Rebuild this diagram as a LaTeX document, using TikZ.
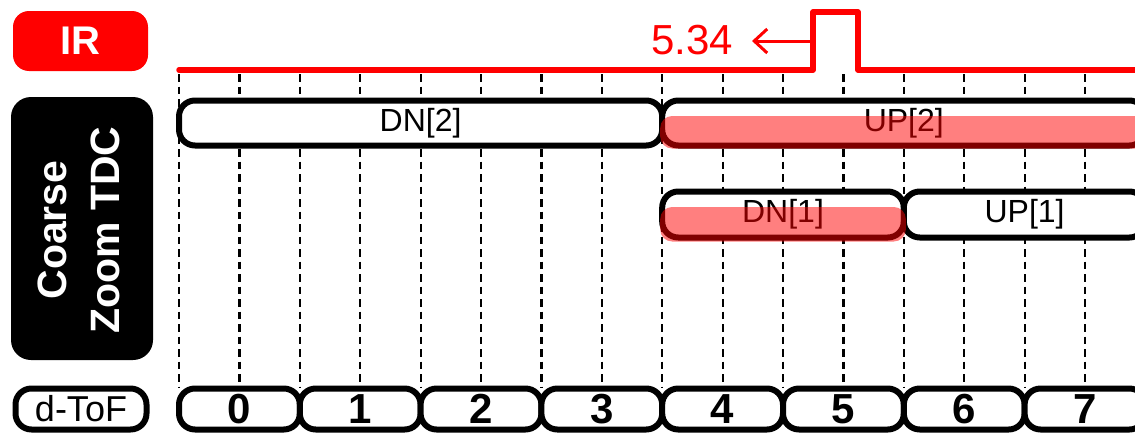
\documentclass[tikz,border=0pt]{standalone}
\usepackage{fontspec}
\setmainfont{Liberation Sans}
\usetikzlibrary{arrows.meta}
% grid of the coarse counter (one step = half a d-ToF bin)
\newcommand{\gridx}{179}
\newcommand{\gridstep}{60.4}
\newcommand{\rowup}{123}
\newcommand{\rowdn}{214.5}
\newcommand{\rowtof}{409}
\newcommand{\irlow}{70}
\newcommand{\irhigh}{12}
\newcommand{\pulsexs}{813}
\newcommand{\pulsexe}{858}
\newcommand{\setfsz}[1]{\fontsize{#1}{#1}\selectfont}
\tikzset{
  gridline/.style={dash pattern=on 7.5pt off 5pt, line width=2.2pt},
  irline/.style={red, line width=5.5pt, line cap=round, line join=round},
  slotbox/.style={draw, line width=6pt, fill=white, rounded corners=16pt,
    inner sep=0pt, minimum height=45pt, font=\setfsz{32pt}},
  tofbox/.style={slotbox, minimum width=2*\gridstep pt, minimum height=41pt,
    font=\setfsz{42pt}\bfseries},
  hilite/.style={fill=red, fill opacity=0.5, rounded corners=12pt},
  tagbox/.style={rounded corners=16pt, inner sep=0pt, text=white,
    font=\setfsz{40pt}\bfseries},
}

\begin{document}
\begin{tikzpicture}[x=1pt, y=-1pt]
    \useasboundingbox (0,0) rectangle (1135,434);
    \clip (0,0) rectangle (1135,434);

    % row labels
    \node[tagbox, fill=red, minimum width=135pt, minimum height=60pt]
      (irtag) at (80.5,41) {IR};
    \node[tagbox, fill=black, rotate=90, rounded corners=20pt,
      minimum width=263pt, minimum height=142pt]
      (tdctag) at (82,228.5) {};
    \node[rotate=90, text=white, align=center, inner sep=0pt,
      font=\setfsz{41pt}\bfseries]
      (tdctext) at (78.5,230) {Coarse\\[12pt]Zoom TDC};
    \node[slotbox, minimum width=131pt, minimum height=41pt,
      font=\setfsz{36pt}] (toftag) at (81,\rowtof) {d-ToF};

    % dashed grid
    \foreach \k in {0,...,15}
      \draw[gridline] ({\gridx+\k*\gridstep},74) -- ++(0,313);

    % IR pulse
    \draw[irline] (\gridx,\irlow) -- (\pulsexs,\irlow) -- (\pulsexs,\irhigh)
      -- (\pulsexe,\irhigh) -- (\pulsexe,\irlow) -- (1150,\irlow);
    \node[red, font=\setfsz{42pt}] (irval) at (692,40) {5.34};
    \coordinate (pulseedge) at (\pulsexs,41);
    \coordinate (valtip) at (752,41);
    \draw[red, line width=3pt, -{Straight Barb[length=13pt,width=24pt]}]
      (pulseedge) -- (valtip);

    % coarse zoom windows
    \node[slotbox, minimum width=8*\gridstep pt]
      (dn2) at ({\gridx+4*\gridstep},\rowup) {DN[2]};
    \node[slotbox, minimum width=8*\gridstep pt]
      (up2) at ({\gridx+12*\gridstep},\rowup) {UP[2]};
    \node[slotbox, minimum width=4*\gridstep pt, minimum height=46pt]
      (dn1) at ({\gridx+10*\gridstep},\rowdn) {DN[1]};
    \node[slotbox, minimum width=4*\gridstep pt, minimum height=46pt]
      (up1) at ({\gridx+14*\gridstep},\rowdn) {UP[1]};
    \fill[hilite] ([xshift=1pt,yshift=7pt]up2.west) rectangle (up2.south east);
    \fill[hilite] ([xshift=1pt,yshift=7.5pt]dn1.west)
      rectangle ([xshift=-1pt,yshift=-1pt]dn1.south east);

    % d-ToF bins
    \foreach \i in {0,...,7}
      \node[tofbox] (tof\i) at ({\gridx+(2*\i+1)*\gridstep},\rowtof) {\i};
  \end{tikzpicture}
\end{document}
